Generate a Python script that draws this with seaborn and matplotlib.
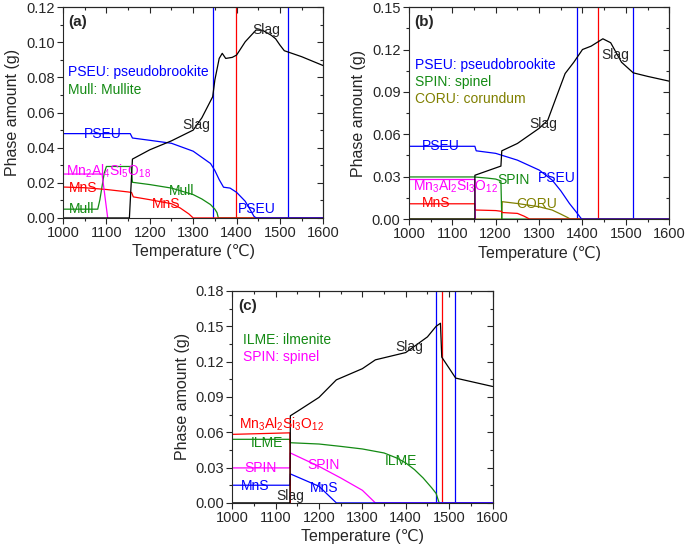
import matplotlib
matplotlib.use("Agg")
import matplotlib.pyplot as plt
from matplotlib.ticker import MultipleLocator
import seaborn as sns

# ---- data (temperature in ℃, phase amount in g) ----
# panel (a)
a_pseu_t = [1000, 1155, 1160, 1200, 1250, 1300, 1340, 1350, 1360, 1370, 1385, 1400, 1420, 1440, 1445, 1600]
a_pseu = [0.048, 0.048, 0.0455, 0.0442, 0.0425, 0.038, 0.031, 0.027, 0.0218, 0.0175, 0.017, 0.0146, 0.0095, 0.001, 0, 0]
a_slag_t = [1000, 1153, 1160, 1200, 1250, 1300, 1320, 1345, 1350, 1360, 1367, 1375, 1390, 1400, 1420, 1445,
            1460, 1480, 1490, 1500, 1510, 1550, 1600]
a_slag = [0, 0, 0.0335, 0.0388, 0.0439, 0.050, 0.057, 0.069, 0.0786, 0.0908, 0.0937, 0.0908, 0.0914, 0.0927,
          0.1003, 0.107, 0.1068, 0.104, 0.102, 0.0984, 0.0952, 0.0918, 0.0867]
a_mull_t = [1000, 1080, 1085, 1090, 1095, 1100, 1157, 1160, 1200, 1250, 1300, 1320, 1340, 1350, 1355, 1358, 1600]
a_mull = [0.005, 0.005, 0.0104, 0.018, 0.0255, 0.0293, 0.0293, 0.0203, 0.019, 0.017, 0.0133, 0.0108, 0.0076,
          0.005, 0.003, 0, 0]
a_mns_t = [1000, 1050, 1100, 1150, 1158, 1162, 1200, 1250, 1270, 1290, 1300, 1600]
a_mns = [0.0176, 0.0172, 0.0162, 0.0148, 0.0145, 0.012, 0.0104, 0.0081, 0.0057, 0.0023, 0, 0]
a_mn2_t = [1000, 1090, 1103]
a_mn2 = [0.025, 0.025, 0]
a_blue_spikes = [1345, 1518]
a_red_spikes = [1398]

# panel (b)
b_pseu_t = [1000, 1152, 1155, 1200, 1250, 1300, 1330, 1350, 1370, 1385, 1398, 1600]
b_pseu = [0.0515, 0.0515, 0.0483, 0.0465, 0.0417, 0.0347, 0.0276, 0.020, 0.011, 0.0052, 0, 0]
b_slag_t = [1000, 1152, 1152, 1212, 1214, 1250, 1300, 1320, 1340, 1360, 1380, 1400, 1420, 1447, 1465, 1490,
            1517, 1550, 1600]
b_slag = [0, 0, 0.031, 0.0375, 0.0483, 0.0535, 0.0642, 0.070, 0.0866, 0.103, 0.111, 0.120, 0.1224, 0.1276,
          0.1248, 0.111, 0.1035, 0.101, 0.0976]
b_spin_t = [1000, 1150, 1180, 1200, 1212, 1214, 1600]
b_spin = [0.0298, 0.0298, 0.029, 0.0283, 0.027, 0, 0]
b_mn3_t = [1000, 1152, 1153]
b_mn3 = [0.028, 0.028, 0]
b_mns_t = [1000, 1152, 1153, 1200, 1213, 1215, 1250, 1265, 1278, 1600]
b_mns = [0.0108, 0.0108, 0.0064, 0.006, 0.0055, 0.0046, 0.004, 0.0021, 0, 0]
b_coru_t = [1000, 1214, 1215, 1250, 1300, 1330, 1350, 1365, 1372, 1600]
b_coru = [0, 0, 0.0123, 0.011, 0.0087, 0.0064, 0.0035, 0.0012, 0, 0]
b_blue_spikes = [1387, 1517]
b_red_spikes = [1435]

# panel (c)
c_mn3_t = [1000, 1133, 1134]
c_mn3 = [0.0582, 0.0595, 0]
c_ilme_t = [1000, 1133, 1134, 1200, 1250, 1300, 1350, 1380, 1400, 1420, 1440, 1460, 1470, 1477, 1600]
c_ilme = [0.054, 0.054, 0.0511, 0.050, 0.048, 0.0458, 0.0424, 0.038, 0.0339, 0.0283, 0.0212, 0.0127, 0.008, 0, 0]
c_spin_t = [1000, 1133, 1134, 1200, 1250, 1300, 1330, 1600]
c_spin = [0.0297, 0.0297, 0.0424, 0.031, 0.0212, 0.0107, 0, 0]
c_mns_t = [1000, 1133, 1134, 1200, 1240, 1600]
c_mns = [0.015, 0.015, 0.0246, 0.0141, 0, 0]
c_slag_t = [1000, 1133, 1134, 1150, 1200, 1240, 1300, 1330, 1400, 1450, 1470, 1480, 1483, 1500, 1515, 1600]
c_slag = [0, 0, 0.074, 0.0777, 0.0896, 0.1045, 0.114, 0.1215, 0.1277, 0.141, 0.150, 0.1526, 0.1238, 0.1144,
          0.106, 0.0989]
c_blue_spikes = [1469, 1513]
c_red_spikes = [1484]

# colours (Origin default-ish)
BLUE = "#0000ff"
RED = "#ff0000"
GREEN = "#138a13"
MAGENTA = "#ff00ff"
OLIVE = "#808000"
BLACK = "#000000"

sns.set_theme(style="ticks")
plt.rcParams["font.family"] = ["Liberation Sans", "DejaVu Sans"]
plt.rcParams["mathtext.fontset"] = "custom"
plt.rcParams["mathtext.rm"] = "Liberation Sans"
plt.rcParams["mathtext.it"] = "Liberation Sans:italic"
plt.rcParams["axes.linewidth"] = 0.8

LW = 0.9
TXT = 10


def curve(ax, t, y, color):
    # keep the original point order so vertical jumps are drawn as such
    sns.lineplot(x=t, y=y, ax=ax, color=color, lw=LW, sort=False, estimator=None)


def style_axes(ax, ymax, ystep):
    ax.set_xlim(1000, 1600)
    ax.set_ylim(0, ymax)
    ax.xaxis.set_major_locator(MultipleLocator(100))
    ax.xaxis.set_minor_locator(MultipleLocator(50))
    ax.yaxis.set_major_locator(MultipleLocator(ystep))
    ax.yaxis.set_minor_locator(MultipleLocator(ystep / 2))
    ax.yaxis.set_major_formatter(matplotlib.ticker.FormatStrFormatter("%.2f"))
    ax.tick_params(which="major", direction="out", length=4, width=0.8, labelsize=10.5, pad=2)
    ax.tick_params(which="minor", direction="out", length=2, width=0.8)
    ax.set_xlabel("Temperature (℃)", fontsize=11.5, labelpad=3)
    ax.set_ylabel("Phase amount (g)", fontsize=11.5, labelpad=4)
    # inward ticks on top and right, like Origin
    top = ax.secondary_xaxis("top")
    top.xaxis.set_major_locator(MultipleLocator(100))
    top.xaxis.set_minor_locator(MultipleLocator(50))
    top.tick_params(which="major", direction="in", length=4, width=0.8, labeltop=False)
    top.tick_params(which="minor", direction="in", length=2, width=0.8)
    right = ax.secondary_yaxis("right")
    right.yaxis.set_major_locator(MultipleLocator(ystep))
    right.yaxis.set_minor_locator(MultipleLocator(ystep / 2))
    right.tick_params(which="major", direction="in", length=4, width=0.8, labelright=False)
    right.tick_params(which="minor", direction="in", length=2, width=0.8)


fig = plt.figure(figsize=(6.85, 5.49), dpi=100)
ax_a = fig.add_axes([0.092, 0.603, 0.380, 0.384])
ax_b = fig.add_axes([0.597, 0.601, 0.380, 0.386])
ax_c = fig.add_axes([0.339, 0.084, 0.380, 0.386])

# ---- (a) ----
ax = ax_a
for x in a_blue_spikes:
    ax.axvline(x, color=BLUE, lw=LW)
for x in a_red_spikes:
    ax.axvline(x, color=RED, lw=LW)
curve(ax, a_mull_t, a_mull, GREEN)
curve(ax, a_mns_t, a_mns, RED)
curve(ax, a_pseu_t, a_pseu, BLUE)
curve(ax, a_mn2_t, a_mn2, MAGENTA)
curve(ax, a_slag_t, a_slag, BLACK)
style_axes(ax, 0.12, 0.02)
ax.text(1013, 0.1115, "(a)", fontsize=11, fontweight="bold", va="center")
ax.text(1012, 0.083, "PSEU: pseudobrookite", color=BLUE, fontsize=TXT, va="center")
ax.text(1012, 0.073, "Mull: Mullite", color=GREEN, fontsize=TXT, va="center")
ax.text(1468, 0.107, "Slag", fontsize=TXT, ha="center", va="center")
ax.text(1306, 0.053, "Slag", fontsize=TXT, ha="center", va="center")
ax.text(1092, 0.048, "PSEU", color=BLUE, fontsize=TXT, ha="center", va="center")
ax.text(1007, 0.0265, r"Mn$_2$Al$_4$Si$_5$O$_{18}$", color=MAGENTA, fontsize=TXT, va="center")
ax.text(1046, 0.0172, "MnS", color=RED, fontsize=TXT, ha="center", va="center")
ax.text(1042, 0.005, "Mull", color=GREEN, fontsize=TXT, ha="center", va="center")
ax.text(1274, 0.0156, "Mull", color=GREEN, fontsize=TXT, ha="center", va="center")
ax.text(1238, 0.0078, "MnS", color=RED, fontsize=TXT, ha="center", va="center")
ax.text(1447, 0.005, "PSEU", color=BLUE, fontsize=TXT, ha="center", va="center")

# ---- (b) ----
ax = ax_b
for x in b_blue_spikes:
    ax.axvline(x, color=BLUE, lw=LW)
for x in b_red_spikes:
    ax.axvline(x, color=RED, lw=LW)
curve(ax, b_coru_t, b_coru, OLIVE)
curve(ax, b_spin_t, b_spin, GREEN)
curve(ax, b_mns_t, b_mns, RED)
curve(ax, b_mn3_t, b_mn3, MAGENTA)
curve(ax, b_pseu_t, b_pseu, BLUE)
curve(ax, b_slag_t, b_slag, BLACK)
style_axes(ax, 0.15, 0.03)
ax.text(1013, 0.1395, "(b)", fontsize=11, fontweight="bold", va="center")
ax.text(1015, 0.109, "PSEU: pseudobrookite", color=BLUE, fontsize=TXT, va="center")
ax.text(1015, 0.097, "SPIN: spinel", color=GREEN, fontsize=TXT, va="center")
ax.text(1015, 0.0847, "CORU: corundum", color=OLIVE, fontsize=TXT, va="center")
ax.text(1475, 0.116, "Slag", fontsize=TXT, ha="center", va="center")
ax.text(1309, 0.067, "Slag", fontsize=TXT, ha="center", va="center")
ax.text(1073, 0.0517, "PSEU", color=BLUE, fontsize=TXT, ha="center", va="center")
ax.text(1340, 0.0288, "PSEU", color=BLUE, fontsize=TXT, ha="center", va="center")
ax.text(1240, 0.0275, "SPIN", color=GREEN, fontsize=TXT, ha="center", va="center")
ax.text(1009, 0.0232, r"Mn$_3$Al$_2$Si$_3$O$_{12}$", color=MAGENTA, fontsize=TXT, va="center")
ax.text(1063, 0.0112, "MnS", color=RED, fontsize=TXT, ha="center", va="center")
ax.text(1294, 0.0105, "CORU", color=OLIVE, fontsize=TXT, ha="center", va="center")

# ---- (c) ----
ax = ax_c
for x in c_blue_spikes:
    ax.axvline(x, color=BLUE, lw=LW)
for x in c_red_spikes:
    ax.axvline(x, color=RED, lw=LW)
curve(ax, c_ilme_t, c_ilme, GREEN)
curve(ax, c_spin_t, c_spin, MAGENTA)
curve(ax, c_mns_t, c_mns, BLUE)
curve(ax, c_mn3_t, c_mn3, RED)
curve(ax, c_slag_t, c_slag, BLACK)
style_axes(ax, 0.18, 0.03)
ax.text(1013, 0.1675, "(c)", fontsize=11, fontweight="bold", va="center")
ax.text(1026, 0.1385, "ILME: ilmenite", color=GREEN, fontsize=TXT, va="center")
ax.text(1026, 0.124, "SPIN: spinel", color=MAGENTA, fontsize=TXT, va="center")
ax.text(1407, 0.132, "Slag", fontsize=TXT, ha="center", va="center")
ax.text(1015, 0.067, r"Mn$_3$Al$_2$Si$_3$O$_{12}$", color=RED, fontsize=TXT, va="center")
ax.text(1080, 0.051, "ILME", color=GREEN, fontsize=TXT, ha="center", va="center")
ax.text(1388, 0.036, "ILME", color=GREEN, fontsize=TXT, ha="center", va="center")
ax.text(1065, 0.0295, "SPIN", color=MAGENTA, fontsize=TXT, ha="center", va="center")
ax.text(1211, 0.0325, "SPIN", color=MAGENTA, fontsize=TXT, ha="center", va="center")
ax.text(1053, 0.0147, "MnS", color=BLUE, fontsize=TXT, ha="center", va="center")
ax.text(1212, 0.0127, "MnS", color=BLUE, fontsize=TXT, ha="center", va="center")
ax.text(1134, 0.0057, "Slag", fontsize=TXT, ha="center", va="center")

fig.savefig("out.png", dpi=100)
